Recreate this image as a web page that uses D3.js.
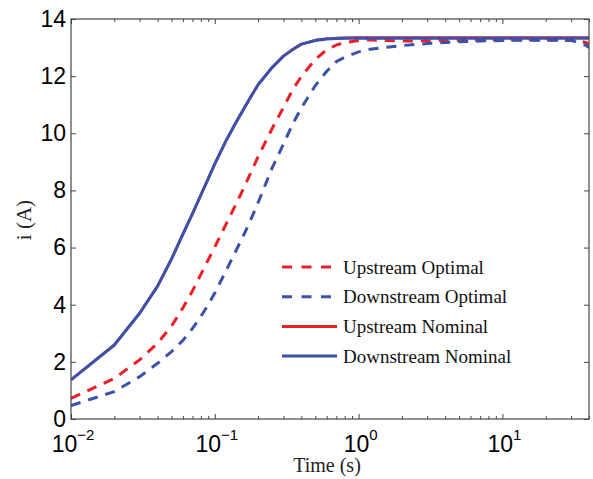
<!DOCTYPE html>
<html>
<head>
<meta charset="utf-8">
<script src="https://cdn.jsdelivr.net/npm/d3@7"></script>
<style>
  html, body { margin: 0; padding: 0; background: #fff; }
  svg { display: block; }
</style>
</head>
<body>
<svg id="chart" width="593" height="479"></svg>
<script>
// ---- data ----
const time = [0.01,0.02,0.03,0.04,0.05,0.06,0.07,0.08,0.09,0.1,0.12,0.14,0.16,0.18,0.2,0.25,0.3,0.35,0.4,0.5,0.6,0.7,0.8,1,1.2,1.5,2,3,4,5,7,10,15,20,30,35,38,40];
const upstreamOptimal   = [0.72,1.42,2.07,2.65,3.25,3.89,4.49,5.06,5.57,6.02,6.83,7.51,8.11,8.68,9.18,10.16,10.9,11.55,11.99,12.59,12.92,13.09,13.17,13.25,13.27,13.25,13.23,13.24,13.25,13.26,13.27,13.27,13.27,13.27,13.25,13.22,13.18,13.12];
const downstreamOptimal = [0.47,0.96,1.48,1.95,2.36,2.75,3.17,3.59,4.0,4.41,5.2,5.88,6.47,7.04,7.57,8.78,9.62,10.35,10.89,11.67,12.17,12.51,12.66,12.85,12.94,13.0,13.07,13.14,13.18,13.2,13.23,13.25,13.26,13.26,13.25,13.15,13.08,13.0];
const upstreamNominal   = [1.37,2.59,3.70,4.65,5.6,6.47,7.19,7.84,8.41,8.93,9.75,10.37,10.88,11.32,11.7,12.3,12.7,12.94,13.12,13.26,13.31,13.33,13.34,13.35,13.35,13.35,13.35,13.35,13.35,13.35,13.35,13.35,13.35,13.35,13.35,13.35,13.35,13.35];
const downstreamNominal = [1.37,2.59,3.70,4.65,5.6,6.47,7.19,7.84,8.41,8.93,9.75,10.37,10.88,11.32,11.7,12.3,12.7,12.94,13.12,13.25,13.3,13.32,13.33,13.33,13.33,13.33,13.33,13.33,13.33,13.33,13.33,13.33,13.33,13.33,13.33,13.33,13.33,13.33];
const seriesNames = ["Upstream Optimal","Downstream Optimal","Upstream Nominal","Downstream Nominal"];
const yTicks = [0,2,4,6,8,10,12,14];
const xMajorTicks = [0.01,0.1,1,10];
const xTickExponents = ["\u22122","\u22121","0","1"];
const xLabel = "Time (s)";
const yLabel = "i (A)";

// ---- layout ----
const padL = 71, padR = 589, padT = 19, padB = 419;
const RED = "#ec1f26", BLUE = "#3a52a8";
const svg = d3.select("#chart");

const x = d3.scaleLog().domain([0.01, 40]).range([padL, padR]);
const y = d3.scaleLinear().domain([0, 14]).range([padB, padT]);

const minorTicks = [];
[-2,-1,0,1].forEach(d => { for (let k = 2; k <= 9; k++) { const v = k * Math.pow(10, d); if (v <= 40) minorTicks.push(v); } });

const axisColor = "#444";
const tickFont = "'Liberation Sans', Arial, Helvetica, sans-serif";
const serif = "'Liberation Serif', 'Times New Roman', serif";

// clip
svg.append("defs").append("clipPath").attr("id","clip")
  .append("rect").attr("x", padL).attr("y", padT).attr("width", padR-padL).attr("height", padB-padT);

// lines
const series = [
  {name: seriesNames[0], values: upstreamOptimal, color: RED, dash: "10,8", w: 3},
  {name: seriesNames[1], values: downstreamOptimal, color: BLUE, dash: "10,8", w: 3},
  {name: seriesNames[2], values: upstreamNominal, color: RED, dash: null, w: 2.6},
  {name: seriesNames[3], values: downstreamNominal, color: BLUE, dash: null, w: 3}
];
const line = d3.line().x((d,i) => x(time[i])).y(d => y(d));
const g = svg.append("g").attr("clip-path","url(#clip)");
series.forEach(s => {
  g.append("path").datum(s.values)
    .attr("d", line).attr("fill","none")
    .attr("stroke", s.color).attr("stroke-width", s.w)
    .attr("stroke-dasharray", s.dash)
    .attr("stroke-linejoin","round");
});

// axes (ticks inward, box)
function styleAxis(sel) {
  sel.select(".domain").remove();
  sel.selectAll(".tick line").attr("stroke", axisColor).attr("stroke-width", 1);
}
svg.append("g").attr("transform",`translate(0,${padB})`)
  .call(d3.axisBottom(x).tickValues(xMajorTicks).tickSize(-5).tickFormat(""))
  .call(styleAxis);
svg.append("g").attr("transform",`translate(0,${padB})`)
  .call(d3.axisBottom(x).tickValues(minorTicks).tickSize(-3).tickFormat(""))
  .call(styleAxis);
svg.append("g").attr("transform",`translate(0,${padT})`)
  .call(d3.axisTop(x).tickValues(xMajorTicks).tickSize(-5).tickFormat(""))
  .call(styleAxis);
svg.append("g").attr("transform",`translate(0,${padT})`)
  .call(d3.axisTop(x).tickValues(minorTicks).tickSize(-3).tickFormat(""))
  .call(styleAxis);
const yl = svg.append("g").attr("transform",`translate(${padL},0)`)
  .call(d3.axisLeft(y).tickValues(yTicks).tickSize(-5).tickPadding(5));
styleAxis(yl);
yl.selectAll(".tick text").attr("font-family", tickFont).attr("font-size", 23).attr("fill","#000");
svg.append("g").attr("transform",`translate(${padR},0)`)
  .call(d3.axisRight(y).tickValues(yTicks).tickSize(-5).tickFormat(""))
  .call(styleAxis);

// box
svg.append("rect").attr("x", padL).attr("y", padT).attr("width", padR-padL).attr("height", padB-padT)
  .attr("fill","none").attr("stroke", axisColor).attr("stroke-width", 1.2);

// x tick labels 10^n
xMajorTicks.forEach((v,i) => {
  const t = svg.append("text").attr("x", x(v) + 2).attr("y", 452)
    .attr("text-anchor","middle").attr("font-family", tickFont).attr("font-size", 23).attr("fill","#000");
  t.append("tspan").text("10");
  t.append("tspan").attr("dy", -12).attr("font-size", 15).text(xTickExponents[i]);
});

// axis titles
svg.append("text").attr("x", 327).attr("y", 472).attr("text-anchor","middle")
  .attr("font-family", serif).attr("font-size", 20).attr("fill","#222").text(xLabel);
svg.append("text").attr("transform","translate(31,220) rotate(-90)").attr("text-anchor","middle")
  .attr("font-family", serif).attr("font-size", 21).attr("fill","#222").text(yLabel);

// legend
const legY0 = 267, legDy = 29.7, legX1 = 282, legX2 = 337;
series.forEach((s,i) => {
  const yy = legY0 + i*legDy;
  svg.append("line").attr("x1", legX1).attr("x2", s.dash ? 332 : legX2).attr("y1", yy).attr("y2", yy)
    .attr("stroke", s.color).attr("stroke-width", 3)
    .attr("stroke-dasharray", s.dash ? "10,9.5" : null);
  svg.append("text").attr("x", 343).attr("y", yy).attr("dy","0.35em")
    .attr("font-family", serif).attr("font-size", 19).attr("fill","#111").text(s.name);
});
</script>
</body>
</html>
